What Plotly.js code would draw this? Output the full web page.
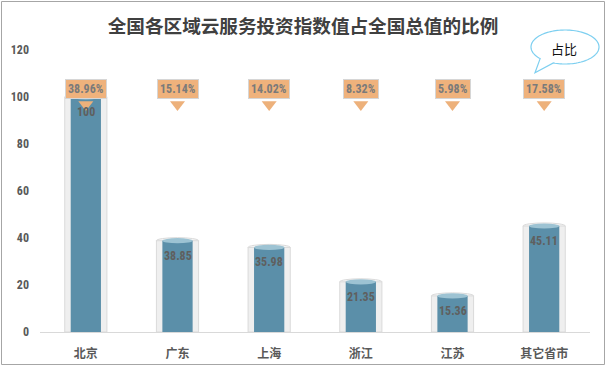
<!DOCTYPE html>
<html><head><meta charset="utf-8">
<script src="https://cdn.plot.ly/plotly-3.0.1.min.js"></script>
<style>html,body{margin:0;padding:0;background:#fff}#chart{width:609px;height:368px}</style>
</head><body><div id="chart"></div>
<script>
const categories = ['北京','广东','上海','浙江','江苏','其它省市'];
const values = [100, 38.85, 35.98, 21.35, 15.36, 45.11];
const shares = ['38.96%','15.14%','14.02%','8.32%','5.98%','17.58%'];
const yTicks = [0,20,40,60,80,100,120];

const L = 40, T = 50, W = 550, H = 282;
const px2x = p => (p - L) / W;
const py2y = p => (T + H - p) / H;

const inner = '#5B8FA9';
const numFont = 'Liberation Sans Narrow, Roboto Condensed, Roboto, sans-serif';

const traces = [
  {type:'bar', x:categories, y:values, width:0.46, marker:{color:'#EFEFEF', line:{color:'#DADADA', width:1}}, hoverinfo:'skip'},
  {type:'bar', x:categories, y:values, width:0.33, marker:{color:inner, line:{width:0}}, hoverinfo:'skip'},
  {type:'scatter', mode:'markers', x:categories, y:categories.map(()=>96.8),
   marker:{symbol:'triangle-down', size:13, color:'#EDB17B', line:{color:'#EDB17B', width:0}}, hoverinfo:'skip'}
];

const shapes = [];
const annotations = [];
categories.forEach((c, i) => {
  const v = values[i];
  shapes.push({type:'circle', xref:'x', yref:'y', x0:i-0.23, x1:i+0.23, y0:v-1.3, y1:v+1.3,
    fillcolor:'#F6F6F6', line:{color:'#DADADA', width:1}, layer:'below'});
  shapes.push({type:'circle', xref:'x', yref:'y', x0:i-0.165, x1:i+0.165, y0:v-1.1, y1:v+1.1,
    fillcolor:'#9DC3D3', line:{width:0}, layer:'above'});
  annotations.push({x:c, y:v, xref:'x', yref:'y', text:'<b>'+v+'</b>', showarrow:false, yshift:-15,
    font:{family:numFont, size:12, color:'#5F5F5F'}});
  annotations.push({x:c, y:103.4, xref:'x', yref:'y', text:'<b>'+shares[i]+'</b>', showarrow:false,
    bgcolor:'#EFB27C', bordercolor:'#D6D6D6', borderwidth:1, borderpad:2,
    font:{family:numFont, size:12, color:'#7A7A7A'}});
});

// speech bubble
(function(){
  const cx = 565, cy = 47, rx = 34, ry = 17;
  const a0 = 137, a1 = 360 + 110;
  let d = '';
  for (let a = a0; a <= a1; a += 3) {
    const t = a * Math.PI / 180;
    const X = px2x(cx + rx * Math.cos(t)), Y = py2y(cy + ry * Math.sin(t));
    d += (d ? ' L' : 'M') + X.toFixed(5) + ',' + Y.toFixed(5);
  }
  d += ' L' + px2x(535).toFixed(5) + ',' + py2y(72.7).toFixed(5) + ' Z';
  shapes.push({type:'path', xref:'paper', yref:'paper', path:d, fillcolor:'#FFFFFF', line:{color:'#7DCFF0', width:1.2}, layer:'above'});
  annotations.push({xref:'paper', yref:'paper', x:px2x(563.5), y:py2y(48.5), xanchor:'center', yanchor:'middle',
    text:'占比', showarrow:false, font:{family:'Noto Sans CJK SC', size:13, color:'#111111'}});
})();

// outer chart border
shapes.push({type:'rect', xref:'paper', yref:'paper', x0:px2x(1.5), x1:px2x(604.5), y0:py2y(364.5), y1:py2y(1.5),
  line:{color:'#A6A6A6', width:1}, fillcolor:'rgba(0,0,0,0)', layer:'above'});

const layout = {
  width:609, height:368,
  margin:{l:L, r:609-L-W, t:T, b:368-T-H, pad:0},
  paper_bgcolor:'#FFFFFF', plot_bgcolor:'#FFFFFF',
  showlegend:false, barmode:'overlay',
  title:{text:'<b>全国各区域云服务投资指数值占全国总值的比例</b>', xref:'container', x:303/609, xanchor:'center',
    yref:'container', y:1-26/368, yanchor:'middle',
    font:{family:'Noto Sans CJK SC', size:18.6, color:'#404040'}},
  xaxis:{range:[-0.5,5.5], showgrid:false, zeroline:false, showline:true, linecolor:'#D9D9D9', linewidth:1,
    ticks:'', ticklabelstandoff:11, tickfont:{family:'Noto Sans CJK SC', size:12, color:'#595959', weight:'bold'}, fixedrange:true},
  yaxis:{range:[0,120], tickvals:yTicks, ticktext:yTicks.map(v=>'<b>'+v+'</b>'), showgrid:false, zeroline:false, showline:false,
    ticks:'', ticklabelstandoff:10, tickfont:{family:numFont, size:12, color:'#595959'}, fixedrange:true},
  shapes:shapes, annotations:annotations
};

Plotly.newPlot('chart', traces, layout, {staticPlot:true, displayModeBar:false});
</script></body></html>
